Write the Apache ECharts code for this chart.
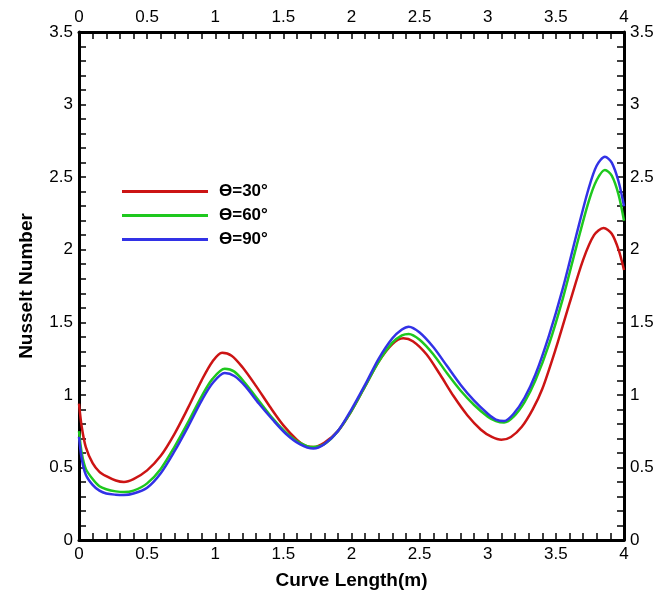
<!DOCTYPE html>
<html><head><meta charset="utf-8">
<script src="https://cdn.jsdelivr.net/npm/echarts@6/dist/echarts.min.js"></script>
<style>html,body{margin:0;padding:0;background:#fff}#c{width:671px;height:595px}</style>
</head><body><div id="c"></div>
<script>
const seriesNames = ['ϴ=30°', 'ϴ=60°', 'ϴ=90°'];
const seriesColors = ['#cc1414', '#1ec81e', '#3232e6'];
const red30 = [[0,0.94],[0.02,0.78],[0.05,0.64],[0.1,0.53],[0.15,0.47],[0.2,0.44],[0.27,0.41],[0.33,0.40],[0.4,0.42],[0.5,0.48],[0.6,0.58],[0.7,0.73],[0.8,0.91],[0.9,1.1],[0.98,1.23],[1.05,1.29],[1.12,1.27],[1.2,1.19],[1.3,1.06],[1.4,0.92],[1.5,0.79],[1.6,0.69],[1.66,0.65],[1.72,0.64],[1.8,0.67],[1.9,0.75],[2.0,0.89],[2.1,1.06],[2.2,1.23],[2.3,1.35],[2.38,1.39],[2.45,1.37],[2.55,1.28],[2.65,1.14],[2.75,0.99],[2.85,0.86],[2.95,0.76],[3.03,0.71],[3.1,0.69],[3.17,0.71],[3.25,0.78],[3.33,0.9],[3.4,1.04],[3.5,1.32],[3.6,1.63],[3.7,1.93],[3.78,2.1],[3.85,2.15],[3.91,2.11],[3.96,2.0],[4.0,1.86]];
const green60 = [[0,0.75],[0.02,0.60],[0.05,0.49],[0.1,0.42],[0.15,0.37],[0.2,0.35],[0.27,0.335],[0.33,0.33],[0.4,0.34],[0.5,0.39],[0.6,0.49],[0.7,0.64],[0.8,0.81],[0.9,0.99],[0.98,1.11],[1.07,1.18],[1.14,1.16],[1.22,1.08],[1.32,0.96],[1.42,0.84],[1.52,0.74],[1.62,0.67],[1.72,0.64],[1.8,0.66],[1.9,0.75],[2.0,0.89],[2.1,1.06],[2.2,1.23],[2.3,1.36],[2.37,1.41],[2.42,1.42],[2.5,1.38],[2.6,1.28],[2.7,1.15],[2.8,1.03],[2.9,0.93],[3.0,0.85],[3.06,0.82],[3.12,0.81],[3.19,0.85],[3.27,0.95],[3.35,1.1],[3.45,1.35],[3.55,1.66],[3.65,2.02],[3.74,2.33],[3.8,2.48],[3.86,2.55],[3.91,2.51],[3.96,2.38],[4.0,2.2]];
const blue90 = [[0,0.71],[0.02,0.56],[0.05,0.45],[0.1,0.38],[0.15,0.34],[0.2,0.32],[0.27,0.312],[0.33,0.31],[0.4,0.32],[0.5,0.36],[0.6,0.46],[0.7,0.61],[0.8,0.78],[0.9,0.96],[0.98,1.08],[1.07,1.15],[1.14,1.13],[1.22,1.06],[1.32,0.94],[1.42,0.83],[1.52,0.73],[1.62,0.66],[1.72,0.63],[1.8,0.66],[1.9,0.75],[2.0,0.9],[2.1,1.07],[2.2,1.25],[2.3,1.39],[2.37,1.45],[2.42,1.47],[2.5,1.43],[2.6,1.33],[2.7,1.2],[2.8,1.07],[2.9,0.96],[3.0,0.87],[3.06,0.83],[3.12,0.82],[3.19,0.87],[3.27,0.98],[3.35,1.14],[3.45,1.41],[3.55,1.73],[3.65,2.1],[3.74,2.42],[3.8,2.58],[3.86,2.64],[3.91,2.6],[3.96,2.47],[4.0,2.3]];
const seriesData = [red30, green60, blue90];
const xTicks = ['0','0.5','1','1.5','2','2.5','3','3.5','4'];

const chart = echarts.init(document.getElementById('c'));
const font = 'Liberation Sans, Arial, sans-serif';
function xAx(pos, showName) {
  return {
    type: 'value', position: pos, min: 0, max: 4, interval: 0.5,
    name: showName ? 'Curve Length(m)' : '', nameLocation: 'middle', nameGap: 31,
    nameTextStyle: {fontFamily: font, fontWeight: 'bold', fontSize: 19, color: '#000'},
    axisLine: {show: true, onZero: false, lineStyle: {color: '#000', width: 3}},
    axisTick: {show: true, inside: true, length: 7, lineStyle: {color: '#000', width: 1.5}},
    minorTick: {show: true, splitNumber: 5, length: 7, lineStyle: {color: '#000', width: 1.5}},
    axisLabel: {fontFamily: font, fontSize: 17, color: '#000', margin: 6,
      formatter: v => { const s = String(+v.toFixed(2)); return xTicks.includes(s) ? s : ''; }},
    splitLine: {show: false}
  };
}
function yAx(pos, showName) {
  return {
    type: 'value', position: pos, min: 0, max: 3.5, interval: 0.5,
    name: showName ? 'Nusselt Number' : '', nameLocation: 'middle', nameGap: 43,
    nameTextStyle: {fontFamily: font, fontWeight: 'bold', fontSize: 19, color: '#000'},
    axisLine: {show: true, onZero: false, lineStyle: {color: '#000', width: 3}},
    axisTick: {show: true, inside: true, length: 7, lineStyle: {color: '#000', width: 1.5}},
    minorTick: {show: true, splitNumber: 5, length: 7, lineStyle: {color: '#000', width: 1.5}},
    axisLabel: {fontFamily: font, fontSize: 17, color: '#000', margin: 6},
    splitLine: {show: false}
  };
}
chart.setOption({
  animation: false,
  backgroundColor: '#fff',
  grid: {left: 79, right: 47, top: 32, bottom: 48, containLabel: false},
  xAxis: [xAx('bottom', true), xAx('top', false)],
  yAxis: [yAx('left', true), yAx('right', false)],
  legend: {
    left: 117, top: 178, orient: 'vertical', itemGap: 7,
    itemWidth: 86, itemHeight: 3, icon: 'rect',
    textStyle: {fontFamily: font, fontWeight: 'bold', fontSize: 17, color: '#000', padding: [0,0,0,6]},
    data: seriesNames
  },
  series: seriesNames.map((n, i) => ({
    name: n, type: 'line', xAxisIndex: 0, yAxisIndex: 0,
    data: seriesData[i], smooth: 0.3, showSymbol: false, symbol: 'none',
    lineStyle: {color: seriesColors[i], width: 2.5}, itemStyle: {color: seriesColors[i]}
  }))
});
</script></body></html>
